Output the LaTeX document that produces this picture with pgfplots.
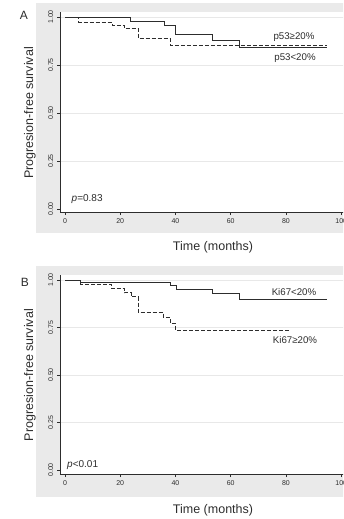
\documentclass[border=0pt]{standalone}
\usepackage{fontspec}
\setmainfont{Liberation Sans}
\usepackage{pgfplots}
\pgfplotsset{compat=1.18}
\definecolor{bgg}{RGB}{234,234,234}
\definecolor{ln}{RGB}{45,45,45}
\definecolor{gridc}{RGB}{232,232,232}
\pgfplotsset{kmaxis/.style={
  scale only axis,
  axis x line=bottom, axis y line=left,
  axis line style={ln, line width=0.6pt, -},
  axis background/.style={fill=white},
  xmin=-1.81, xmax=103, width=289.5pt,
  xtick={0,20,40,60,80,100},
  ytick={0.25,0.5,0.75,1}, yticklabels={0.25,0.50,0.75,1.00},
  extra y ticks={0}, extra y tick labels={0.00},
  extra y tick style={grid=none},
  tick align=outside, major tick length=3pt,
  tick style={ln, line width=0.5pt},
  ymajorgrids, grid style={gridc, line width=0.7pt},
  ticklabel style={font=\fontsize{7}{8}\selectfont, text=ln},
  /pgf/number format/assume math mode=true,
  yticklabel style={rotate=90, anchor=south, inner sep=0pt},
  yticklabel shift=3.5pt,
  xticklabel style={inner sep=0pt}, xticklabel shift=3.5pt,
}}
\begin{document}
\begin{tikzpicture}
\useasboundingbox (0,0) rectangle (343pt,-519pt);
\clip (0,0) rectangle (343pt,-519pt);
\fill[bgg] (36pt,-3.3pt) rectangle (350pt,-233pt);
\fill[bgg] (36pt,-266pt) rectangle (350pt,-497pt);

% Panel A
\begin{axis}[kmaxis, at={(60pt,-212pt)}, anchor=south west,
  ymin=-0.0156, ymax=1.0276, height=200.3pt]
\addplot[const plot, ln, line width=0.8pt] coordinates {
  (0,1) (23.5,0.979) (36,0.958) (40,0.91) (53.5,0.877) (63.1,0.841) (94.7,0.841)};
\addplot[const plot, ln, line width=0.8pt, dash pattern=on 4pt off 2pt] coordinates {
  (0,1) (5,0.972) (17,0.958) (21.5,0.941) (26.5,0.889) (38,0.853) (94.7,0.853)};
\end{axis}

% Panel B
\begin{axis}[kmaxis, at={(60pt,-474pt)}, anchor=south west,
  ymin=-0.021, ymax=1.029, height=199.5pt]
\addplot[const plot, ln, line width=0.8pt] coordinates {
  (0,1) (5.5,0.987) (38,0.974) (40.2,0.951) (53.4,0.93) (63.1,0.898) (94.7,0.898)};
\addplot[const plot, ln, line width=0.8pt, dash pattern=on 4pt off 2pt] coordinates {
  (0,1) (5.5,0.979) (16.8,0.956) (21.5,0.933) (23.9,0.912) (26.6,0.83) (35.6,0.804) (38,0.772) (40,0.737) (81.4,0.737)};
\end{axis}

% texts
\node[font=\fontsize{12}{14}\selectfont, text=ln] at (24pt,-15pt) {A};
\node[font=\fontsize{12}{14}\selectfont, text=ln] at (25pt,-282pt) {B};
\node[rotate=90, font=\fontsize{12.5}{14}\selectfont, text=ln] at (30pt,-113pt) {Progresion-free survival};
\node[rotate=90, font=\fontsize{12.5}{14}\selectfont, text=ln] at (30pt,-375pt) {Progresion-free survival};
\node[font=\fontsize{12.5}{14}\selectfont, text=ln] at (213pt,-247pt) {Time (months)};
\node[font=\fontsize{12.5}{14}\selectfont, text=ln] at (213pt,-510pt) {Time (months)};
\node[font=\fontsize{9.7}{11}\selectfont, text=ln] at (294pt,-37pt) {p53≥20\%};
\node[font=\fontsize{9.7}{11}\selectfont, text=ln] at (295pt,-58.5pt) {p53<20\%};
\node[font=\fontsize{9.7}{11}\selectfont, text=ln] at (294pt,-291.7pt) {Ki67<20\%};
\node[font=\fontsize{9.7}{11}\selectfont, text=ln] at (295pt,-340pt) {Ki67≥20\%};
\node[font=\fontsize{10}{11}\selectfont, text=ln, anchor=west, inner sep=0pt] at (71.5pt,-199pt) {\textit{p}=0.83};
\node[font=\fontsize{10}{11}\selectfont, text=ln, anchor=west, inner sep=0pt] at (67pt,-465pt) {\textit{p}<0.01};
\end{tikzpicture}
\end{document}
